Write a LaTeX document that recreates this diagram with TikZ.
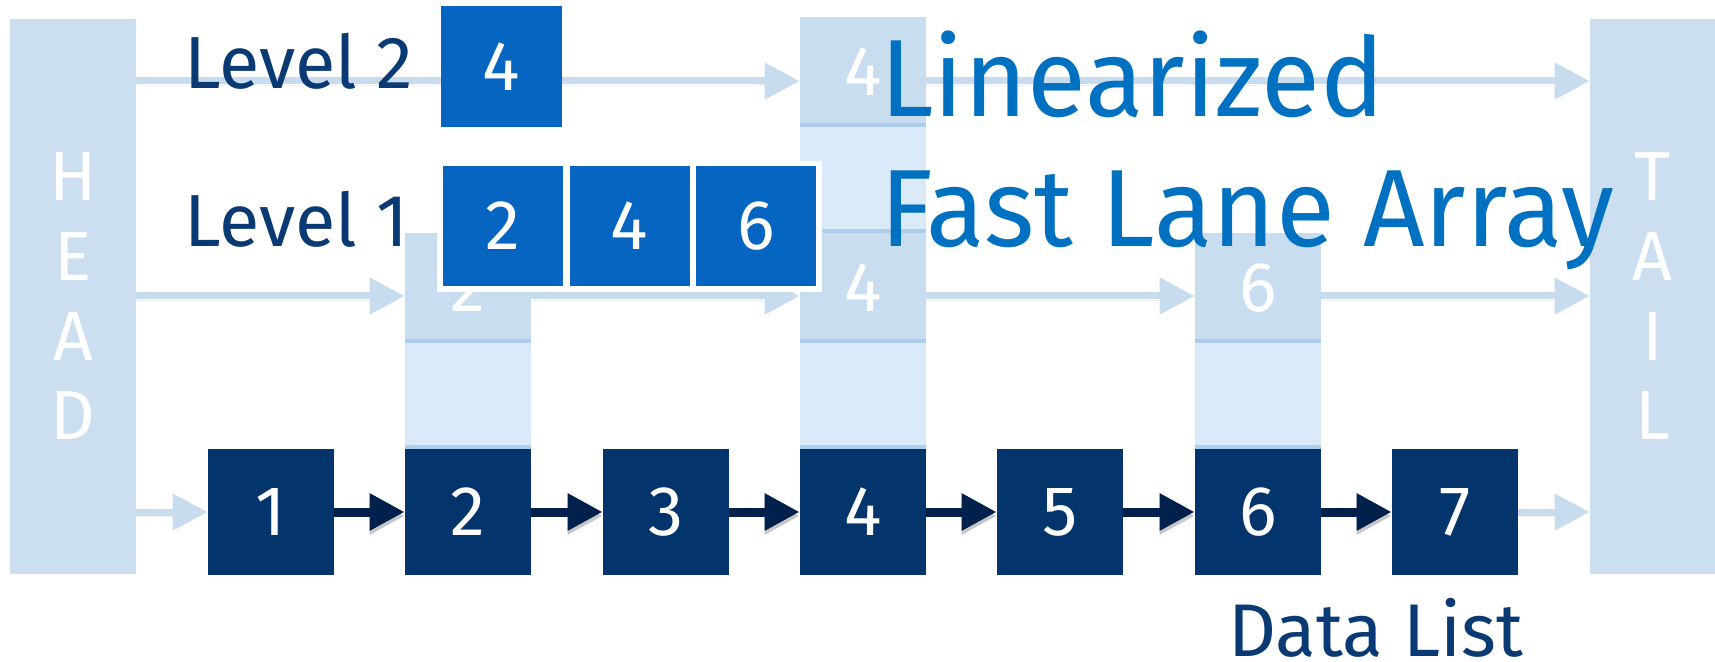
\documentclass[tikz,border=0pt]{standalone}
\usepackage{fontspec}
\setmainfont{Fira Sans}
\newfontfamily\titlefont{Fira Sans}[FakeStretch=0.98]
\usetikzlibrary{arrows.meta}

\definecolor{railcol}{HTML}{CCDFF0}
\definecolor{cellmid}{HTML}{C9DDF0}
\definecolor{celllight}{HTML}{DBEAF9}
\definecolor{cellline}{HTML}{ADCDEE}
\definecolor{linklight}{HTML}{C8DCF0}
\definecolor{navy}{HTML}{03356C}
\definecolor{navylink}{HTML}{02204C}
\definecolor{lanecol}{HTML}{0565C0}
\definecolor{titleblue}{HTML}{0070C0}
\definecolor{labelnavy}{HTML}{0A3A73}

\newlength\pxl
\setlength\pxl{0.02cm}
\newcommand\setfs[1]{\fontsize{#1}{#1}\selectfont}

\tikzset{
  rail/.style={fill=railcol, inner sep=0, minimum width=126\pxl, minimum height=555\pxl,
    text=white, align=center, font=\fontsize{39.5}{45.35}\selectfont},
  digit/.style={inner sep=0, text=white, font=\setfs{40}},
  databox/.style={digit, fill=navy, minimum width=126\pxl, minimum height=126\pxl},
  lanebox/.style={digit, fill=lanecol, minimum width=120\pxl, minimum height=120\pxl},
  segment/.style={inner sep=0, minimum width=126\pxl,
    path picture={\draw[cellline, line width=4\pxl]
      ([yshift=2\pxl]path picture bounding box.south west) --
      ([yshift=2\pxl]path picture bounding box.south east);}},
  levelcell/.style={segment, digit, fill=cellmid, minimum height=110\pxl},
  spacer/.style={segment, fill=celllight, minimum height=106\pxl},
  lightlink/.style={draw=linklight, line width=7\pxl,
    -{Triangle[length=0.7cm, width=0.7cm]},
    preaction={draw=black, opacity=0.06, transform canvas={yshift=-4\pxl}}},
  darklink/.style={draw=navylink, line width=9\pxl,
    -{Triangle[length=0.7cm, width=0.7cm]},
    preaction={draw=black, opacity=0.22, transform canvas={yshift=-4\pxl}}},
  leveltext/.style={anchor=base west, inner sep=0, text=labelnavy, font=\setfs{42}},
  titletext/.style={anchor=base west, inner sep=0, text=titleblue, font=\titlefont\setfs{62.5}},
}

\begin{document}
\begin{tikzpicture}[x=0.02cm, y=-0.02cm]
\useasboundingbox (0,0) rectangle (1715,662);

% head and tail sentinels
\node[rail] (head) at (73,296.5) {H\\E\\A\\D};
\node[rail, minimum width=125\pxl] (tail) at (1652.5,296.5) {T\\A\\I\\L};

% towers of the skip list above the data nodes
\node[levelcell] (c2a) at (468,288) {2};
\node[spacer]    (c2s) at (468,396) {};
\node[levelcell] (c4b) at (863,72)  {4};
\node[spacer]    (c4t) at (863,180) {};
\node[levelcell] (c4a) at (863,288) {4};
\node[spacer]    (c4s) at (863,396) {};
\node[levelcell] (c6a) at (1258,288) {6};
\node[spacer]    (c6s) at (1258,396) {};

% link anchors, a little below the middle of each level cell
\coordinate (c4bw) at ([yshift=-9\pxl]c4b.west);
\coordinate (c4be) at ([yshift=-9\pxl]c4b.east);
\coordinate (c2aw) at ([yshift=-8\pxl]c2a.west);
\coordinate (c2ae) at ([yshift=-8\pxl]c2a.east);
\coordinate (c4aw) at ([yshift=-8\pxl]c4a.west);
\coordinate (c4ae) at ([yshift=-8\pxl]c4a.east);
\coordinate (c6aw) at ([yshift=-8\pxl]c6a.west);
\coordinate (c6ae) at ([yshift=-8\pxl]c6a.east);

% level 2 links
\draw[lightlink] (head.east |- c4bw) -- (c4bw);
\draw[lightlink] (c4be) -- (tail.west |- c4be);

% level 1 links
\draw[lightlink] (head.east |- c2aw) -- (c2aw);
\draw[lightlink] (c2ae) -- (c4aw);
\draw[lightlink] (c4ae) -- (c6aw);
\draw[lightlink] (c6ae) -- (tail.west |- c6ae);

% level labels
\node[leveltext] (lv2) at (184,89)  {Level 2};
\node[leveltext] (lv1) at (184,247) {Level 1};

% linearized fast lane array
\node[lanebox, minimum width=121\pxl, minimum height=121\pxl] (f2) at (501,66.5) {4};
\node[fill=white, inner sep=0, minimum width=385\pxl, minimum height=131\pxl] (lanebg) at (629.5,226.5) {};
\node[lanebox] (f1a) at (503,226) {2};
\node[lanebox] (f1b) at (629.5,226) {4};
\node[lanebox] (f1c) at (756,226) {6};

\node[titletext] (title1) at (880,117) {Linearized};
\node[titletext] (title2) at (880,247) {Fast Lane Array};

% data list
\node[databox] (d1) at (271,512)  {1};
\node[databox] (d2) at (468,512)  {2};
\node[databox] (d3) at (666,512)  {3};
\node[databox] (d4) at (863,512)  {4};
\node[databox] (d5) at (1060,512) {5};
\node[databox] (d6) at (1258,512) {6};
\node[databox] (d7) at (1455,512) {7};

\draw[lightlink] (head.east |- d1.west) -- (d1.west);
\draw[darklink] (d1) -- (d2);
\draw[darklink] (d2) -- (d3);
\draw[darklink] (d3) -- (d4);
\draw[darklink] (d4) -- (d5);
\draw[darklink] (d5) -- (d6);
\draw[darklink] (d6) -- (d7);
\draw[lightlink] (d7.east) -- (tail.west |- d7.east);

\node[leveltext, font=\setfs{42.5}] (datalabel) at (1228,656) {Data List};
\end{tikzpicture}
\end{document}
